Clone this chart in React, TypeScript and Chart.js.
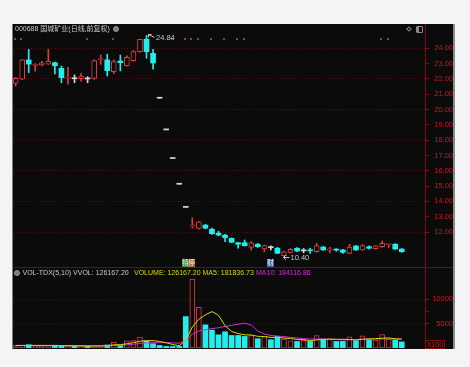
import React, { useEffect, useRef } from 'react';
import { Chart, registerables } from 'chart.js';

Chart.register(...registerables);

// ---- texts ----
const stockTitle = '000688 国城矿业(日线,前复权)';
const volTitleMain = 'VOL-TDX(5,10) VVOL: 126167.20';
const volTitleMa5 = 'VOLUME: 126167.20 MA5: 181836.73';
const volTitleMa10 = 'MA10: 184116.86';
const volUnitLabel = 'X100';

// ---- daily candles (oldest -> newest) ----
const opens = [
  21.71, 21.98, 23.24, 22.88, 22.91, 22.97, 23.06, 22.69, 22.05, 22.01,
  22.01, 22.0, 22.04, 23.25, 23.24, 22.47, 23.17, 22.86, 23.19, 23.78,
  24.59, 23.67, 20.74, 18.67, 16.8, 15.12, 13.61, 12.4, 12.24, 12.45,
  12.18, 11.93, 11.8, 11.59, 11.3, 11.3, 11.0, 11.2, 10.89, 10.98,
  10.94, 10.45, 10.67, 10.94, 10.77, 10.79, 10.71, 11.02, 10.82, 10.84,
  10.83, 10.61, 11.09, 10.83, 11.04, 10.92, 11.04, 11.18, 11.2, 10.89,
];
const highs = [
  22.1, 23.26, 23.93, 23.0, 23.15, 23.93, 23.1, 22.84, 22.76, 22.26,
  22.35, 22.15, 23.25, 23.56, 23.61, 23.25, 23.56, 23.5, 23.85, 24.6,
  24.84, 23.93, 20.74, 18.67, 16.8, 15.12, 13.61, 12.93, 12.7, 12.5,
  12.25, 12.05, 11.85, 11.62, 11.33, 11.48, 11.38, 11.25, 11.15, 11.09,
  11.0, 10.75, 10.92, 10.98, 10.92, 10.94, 11.26, 11.06, 11.0, 10.91,
  10.87, 11.2, 11.12, 11.18, 11.1, 11.12, 11.41, 11.2, 11.24, 10.92,
];
const lows = [
  21.54, 21.95, 22.41, 22.5, 22.85, 22.95, 22.32, 21.75, 21.65, 21.75,
  21.85, 21.75, 21.97, 22.95, 22.19, 22.35, 22.52, 22.84, 23.15, 23.75,
  23.35, 22.63, 20.74, 18.67, 16.8, 15.12, 13.61, 12.25, 12.18, 12.2,
  11.85, 11.75, 11.37, 11.3, 10.94, 11.08, 10.83, 11.0, 10.71, 10.83,
  10.58, 10.4, 10.62, 10.72, 10.64, 10.61, 10.68, 10.8, 10.64, 10.74,
  10.61, 10.58, 10.8, 10.8, 10.9, 10.88, 11.0, 10.98, 10.86, 10.68,
];
const closes = [
  22.04, 23.24, 22.97, 22.92, 23.05, 23.15, 22.86, 22.08, 22.1, 22.01,
  22.19, 22.0, 23.19, 23.3, 22.54, 23.13, 23.06, 23.41, 23.78, 24.59,
  23.78, 23.04, 20.74, 18.67, 16.8, 15.12, 13.61, 12.46, 12.67, 12.25,
  11.89, 11.8, 11.63, 11.33, 11.2, 11.11, 11.3, 11.04, 11.11, 10.98,
  10.61, 10.71, 10.87, 10.76, 10.77, 10.77, 11.11, 10.83, 10.84, 10.82,
  10.68, 11.02, 10.83, 11.11, 10.94, 11.09, 11.26, 11.2, 10.89, 10.71,
];

// ---- volume (x100 shares) and its moving averages ----
const volumes = [
  520, 540, 680, 450, 470, 480, 560, 420, 360, 450,
  350, 420, 480, 470, 620, 1220, 600, 1490, 1520, 2240,
  1490, 880, 530, 330, 300, 330, 6450, 14140, 8360, 4750,
  3670, 2710, 3330, 2570, 2570, 2370, 2570, 1900, 2370, 1690,
  2370, 1840, 1490, 1350, 1550, 1350, 2570, 1840, 1840, 1350,
  1350, 2300, 1500, 2500, 1669, 1650, 2750, 1800, 1630, 1262,
];
const ma5 = [
  530, 520, 540, 530, 532, 524, 528, 476, 458, 454,
  428, 400, 412, 434, 468, 642, 678, 880, 1090, 1414,
  1468, 1524, 1332, 1094, 706, 474, 1588, 4310, 5916, 6806,
  7474, 6726, 4564, 3406, 2970, 2710, 2682, 2396, 2356, 2180,
  2180, 2034, 1952, 1748, 1720, 1516, 1662, 1732, 1830, 1790,
  1790, 1736, 1668, 1800, 1864, 1924, 2014, 2074, 1900, 1818,
];
const ma10 = [
  530, 525, 520, 515, 510, 505, 500, 498, 495, 493,
  476, 464, 444, 446, 461, 535, 539, 646, 762, 941,
  1055, 1101, 1106, 1092, 1060, 971, 1556, 2821, 3505, 3756,
  3974, 4157, 4437, 4661, 4888, 5092, 4704, 3480, 2881, 2575,
  2445, 2358, 2174, 2052, 1950, 1848, 1848, 1842, 1789, 1755,
  1653, 1699, 1700, 1815, 1827, 1857, 1875, 1871, 1850, 1841,
];

// ---- axes ----
const priceTicks = [12, 13, 14, 15, 16, 17, 18, 19, 20, 21, 22, 23, 24];
const priceGridTicks = [12, 14, 16, 18, 20, 22, 24];
const volumeTicks = [5000, 7500, 10000];
const volumeLabelTicks = [5000, 10000];

// ---- event markers / info tags (day indexes) ----
const eventMarkerDays = [0, 1, 11, 15, 24, 26, 27, 28, 30, 32, 34, 35, 56, 57];
const tagDays = [26, 27, 39];
const tagTexts = ['特', '停', '财'];

// ---- layout / style constants ----
const X_MIN = -0.4;
const X_MAX = 62.55;
const PRICE_MIN = 9.715;
const PRICE_MAX = 25.587;
const VOL_MIN = 0;
const VOL_MAX = 16632;

const FONT = '"Liberation Sans", Arial, "Noto Sans CJK SC", sans-serif';
const BG = '#0b0b0b';
const UP = '#e03a3a';
const DOWN = '#22eeee';
const FLAT = '#d6d6d6';
const AXIS = '#8c0a0a';
const AXIS_TEXT = '#c81c1c';
const GRID = '#640808';
const LABEL = '#c8c8c8';
const EVENT = '#a020a8';
const MA5_COLOR = '#d8d800';
const MA10_COLOR = '#d62cd6';
const TAG_BG = ['#3f913f', '#a86d3d', '#3f67a3'];

function dirOf(i: number): number {
  if (closes[i] > opens[i]) return 1;
  if (closes[i] < opens[i]) return -1;
  return 0;
}
function volUp(i: number): boolean {
  const d = dirOf(i);
  if (d !== 0) return d > 0;
  return i > 0 ? closes[i] >= closes[i - 1] : true;
}

const fitAxis = (scale: any) => {
  scale.width = 28;
  scale.paddingTop = 0;
  scale.paddingBottom = 0;
};

const priceMarks = {
  id: 'priceMarks',
  afterDatasetsDraw(chart: any) {
    const { ctx, chartArea } = chart;
    const xs = chart.scales.x;
    const ys = chart.scales.y;
    ctx.save();
    // event markers row
    ctx.fillStyle = EVENT;
    eventMarkerDays.forEach((d) => {
      const px = Math.round(xs.getPixelForValue(d)) - 2;
      ctx.fillRect(px, chartArea.top + 14, 2, 2);
    });
    // highest / lowest labels
    const hi = Math.max(...highs);
    const lo = Math.min(...lows);
    const hiIdx = highs.indexOf(hi);
    const loIdx = lows.indexOf(lo);
    ctx.strokeStyle = LABEL;
    ctx.fillStyle = LABEL;
    ctx.lineWidth = 1;
    ctx.font = `7.5px ${FONT}`;
    ctx.textBaseline = 'middle';
    ctx.textAlign = 'left';
    const hx = Math.round(xs.getPixelForValue(hiIdx)) + 1.5;
    const hy = Math.round(ys.getPixelForValue(hi)) - 0.5;
    ctx.beginPath();
    ctx.moveTo(hx + 3, hy);
    ctx.lineTo(hx, hy);
    ctx.lineTo(hx, hy + 3);
    ctx.moveTo(hx, hy);
    ctx.lineTo(hx + 6, hy + 3);
    ctx.stroke();
    ctx.fillText(hi.toFixed(2), hx + 7.5, hy + 3.5);
    const lx = Math.round(xs.getPixelForValue(loIdx)) - 0.5;
    const ly = Math.round(ys.getPixelForValue(lo)) + 0.5;
    ctx.beginPath();
    ctx.moveTo(lx + 2.5, ly - 2.5);
    ctx.lineTo(lx, ly);
    ctx.lineTo(lx + 2.5, ly + 2.5);
    ctx.moveTo(lx, ly);
    ctx.lineTo(lx + 6, ly);
    ctx.stroke();
    ctx.fillText(lo.toFixed(2), lx + 7, ly);
    // info tags
    ctx.font = '6.5px "Noto Sans CJK SC", sans-serif';
    ctx.textAlign = 'center';
    tagDays.forEach((d, k) => {
      const cx = Math.round(xs.getPixelForValue(d)) - 0.5;
      ctx.fillStyle = TAG_BG[k];
      ctx.fillRect(cx - 3.5, chartArea.bottom - 8, 7, 8);
      ctx.fillStyle = '#f2f2f2';
      ctx.fillText(tagTexts[k], cx, chartArea.bottom - 4);
    });
    ctx.restore();
  },
};

export default function App() {
  const priceRef = useRef<HTMLCanvasElement>(null);
  const volRef = useRef<HTMLCanvasElement>(null);

  useEffect(() => {
    const days = opens.map((_, i) => i);
    const candleColor = (i: number) => (dirOf(i) > 0 ? UP : dirOf(i) < 0 ? DOWN : FLAT);

    const priceChart = new Chart(priceRef.current as HTMLCanvasElement, {
      type: 'bar',
      data: {
        datasets: [
          {
            label: 'body',
            data: days.map((i) => ({ x: i, y: [opens[i], closes[i]] })) as any,
            backgroundColor: days.map((i) => (dirOf(i) > 0 ? BG : candleColor(i))),
            borderColor: days.map(candleColor),
            borderWidth: days.map((i) => (dirOf(i) > 0 ? 1 : 0)),
            borderSkipped: false,
            barThickness: 5,
            minBarLength: 1,
            grouped: false,
            order: 0,
          } as any,
          {
            label: 'wick',
            data: days.map((i) => ({ x: i, y: [lows[i], highs[i]] })) as any,
            backgroundColor: days.map(candleColor),
            borderWidth: 0,
            barThickness: 1,
            grouped: false,
            order: 1,
          } as any,
        ],
      },
      options: {
        responsive: false,
        maintainAspectRatio: false,
        animation: false,
        events: [],
        devicePixelRatio: 1,
        layout: { padding: 0 },
        plugins: { legend: { display: false }, tooltip: { enabled: false } },
        scales: {
          x: { type: 'linear', min: X_MIN, max: X_MAX, display: false, offset: false },
          y: {
            type: 'linear',
            position: 'right',
            min: PRICE_MIN,
            max: PRICE_MAX,
            afterBuildTicks: (scale: any) => {
              scale.ticks = priceTicks.map((v) => ({ value: v }));
            },
            afterFit: fitAxis,
            ticks: {
              autoSkip: false,
              callback: (v: any) => Number(v).toFixed(2),
              color: AXIS_TEXT,
              font: { family: FONT, size: 7.5 },
              crossAlign: 'far',
              padding: 3,
            },
            grid: {
              color: (c: any) => (c.tick && priceGridTicks.includes(c.tick.value) ? GRID : 'rgba(0,0,0,0)'),
              tickColor: AXIS,
              tickLength: 4,
              lineWidth: 1,
            },
            border: { display: true, color: AXIS, width: 1, dash: [1, 2] },
          },
        },
      } as any,
      plugins: [priceMarks],
    });

    const volChart = new Chart(volRef.current as HTMLCanvasElement, {
      type: 'bar',
      data: {
        datasets: [
          {
            type: 'line',
            label: 'MA5',
            data: days.map((i) => ({ x: i, y: ma5[i] })),
            borderColor: MA5_COLOR,
            borderWidth: 1,
            pointRadius: 0,
            tension: 0,
            order: 0,
          } as any,
          {
            type: 'line',
            label: 'MA10',
            data: days.map((i) => ({ x: i, y: ma10[i] })),
            borderColor: MA10_COLOR,
            borderWidth: 1,
            pointRadius: 0,
            tension: 0,
            order: 1,
          } as any,
          {
            type: 'bar',
            label: 'VOLUME',
            data: days.map((i) => ({ x: i, y: volumes[i] })),
            backgroundColor: days.map((i) => (volUp(i) ? BG : DOWN)),
            borderColor: days.map((i) => (volUp(i) ? UP : DOWN)),
            borderWidth: days.map((i) => (volUp(i) ? 1 : 0)),
            borderSkipped: false,
            barThickness: 5,
            grouped: false,
            order: 2,
          } as any,
        ],
      },
      options: {
        responsive: false,
        maintainAspectRatio: false,
        animation: false,
        events: [],
        devicePixelRatio: 1,
        layout: { padding: { bottom: 1 } },
        plugins: { legend: { display: false }, tooltip: { enabled: false } },
        scales: {
          x: { type: 'linear', min: X_MIN, max: X_MAX, display: false, offset: false },
          y: {
            type: 'linear',
            position: 'right',
            min: VOL_MIN,
            max: VOL_MAX,
            afterBuildTicks: (scale: any) => {
              scale.ticks = volumeTicks.map((v) => ({ value: v }));
            },
            afterFit: fitAxis,
            ticks: {
              autoSkip: false,
              callback: (v: any) => (volumeLabelTicks.includes(Number(v)) ? String(v) : ''),
              color: AXIS_TEXT,
              font: { family: FONT, size: 7.5 },
              crossAlign: 'far',
              padding: 3,
            },
            grid: {
              color: (c: any) => (c.tick && volumeLabelTicks.includes(c.tick.value) ? GRID : 'rgba(0,0,0,0)'),
              tickColor: AXIS,
              tickLength: 4,
              lineWidth: 1,
            },
            border: { display: true, color: AXIS, width: 1, dash: [1, 2] },
          },
        },
      } as any,
    });

    return () => {
      priceChart.destroy();
      volChart.destroy();
    };
  }, []);

  const txt: React.CSSProperties = {
    position: 'absolute',
    fontFamily: FONT,
    fontSize: 7,
    lineHeight: '8px',
    whiteSpace: 'nowrap',
  };

  return (
    <div style={{ position: 'fixed', left: 0, top: 0, width: 470, height: 367, background: '#f4f4f4', overflow: 'hidden' }}>
      <div style={{ position: 'absolute', left: 12, top: 24, width: 441, height: 325, background: BG }} />
      <div style={{ position: 'absolute', left: 12, top: 24, width: 1, height: 325, background: '#7c7c7c' }} />
      <div style={{ position: 'absolute', left: 453, top: 24, width: 2, height: 325, background: '#8a8a8a' }} />
      <canvas
        ref={priceRef}
        width={440}
        height={243}
        style={{ position: 'absolute', left: 13, top: 24, width: 440, height: 243 }}
      />
      <canvas
        ref={volRef}
        width={440}
        height={82}
        style={{ position: 'absolute', left: 13, top: 267, width: 440, height: 82 }}
      />
      <div style={{ position: 'absolute', left: 13, top: 267, width: 440, height: 1, background: '#7a0808' }} />

      {/* price panel title */}
      <div style={{ ...txt, left: 15, top: 25, color: LABEL }}>{stockTitle}</div>
      <div
        style={{
          position: 'absolute', left: 113, top: 26, width: 6, height: 6, borderRadius: 3,
          background: '#7a7a7a', boxSizing: 'border-box', border: '1px solid #9a9a9a',
        }}
      />
      {/* top-right icons */}
      <div
        style={{
          position: 'absolute', left: 407, top: 27, width: 4, height: 4, transform: 'rotate(45deg)',
          border: '1px solid #8a8a8a', boxSizing: 'border-box',
        }}
      />
      <div
        style={{
          position: 'absolute', left: 416, top: 26, width: 7, height: 7, border: '1px solid #8a8a8a',
          boxSizing: 'border-box', borderRadius: 1, background: 'linear-gradient(90deg, #8a8a8a 0 40%, transparent 40%)',
        }}
      />

      {/* volume panel title */}
      <div
        style={{
          position: 'absolute', left: 14, top: 270, width: 6, height: 6, borderRadius: 3,
          background: '#7a7a7a', boxSizing: 'border-box', border: '1px solid #9a9a9a',
        }}
      />
      <div style={{ ...txt, left: 22.5, top: 268.5, color: LABEL }}>{volTitleMain}</div>
      <div style={{ ...txt, left: 134, top: 268.5, color: MA5_COLOR }}>{volTitleMa5}</div>
      <div style={{ ...txt, left: 256, top: 268.5, color: MA10_COLOR }}>{volTitleMa10}</div>

      {/* unit box */}
      <div
        style={{
          ...txt, left: 425, top: 340, width: 20, height: 9, boxSizing: 'border-box',
          border: '1px solid #8c0a0a', color: AXIS_TEXT, textAlign: 'center', lineHeight: '7px',
        }}
      >
        {volUnitLabel}
      </div>
    </div>
  );
}
